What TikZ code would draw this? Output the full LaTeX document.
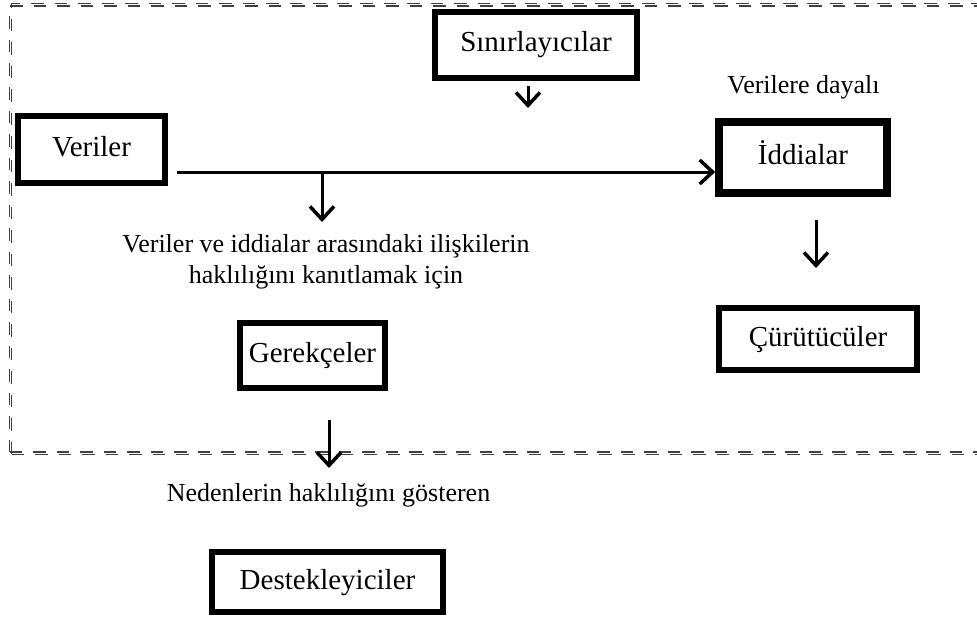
\documentclass[tikz,border=0pt]{standalone}
\usepackage{fontspec}
\setmainfont{Liberation Serif}
\usetikzlibrary{arrows.meta,shadows}
\begin{document}
\begin{tikzpicture}[x=1pt,y=-1pt,
  boxnode/.style={draw=black, fill=white, line width=6pt, inner sep=0pt,
    font=\fontsize{29}{33}\selectfont, text height=20pt, text depth=6pt,
    drop shadow={shadow xshift=0pt, shadow yshift=-2.5pt, fill=black, opacity=1}},
  lbl/.style={font=\fontsize{26}{31}\selectfont, inner sep=0pt, align=center},
  arr/.style={line width=3pt, -{Straight Barb[length=13pt,width=24pt,line width=3.5pt]}},
  dashframe/.style={draw=black!75, line width=1.2pt, dash pattern=on 12.5pt off 11pt}
]
\useasboundingbox (0,0) rectangle (977,618);
% dashed frame (double line)
\coordinate (f1) at (9.5,452);
\coordinate (f2) at (9.5,6);
\coordinate (f3) at (995,6);
\coordinate (f4) at (995,452);
\draw[dashframe] (f1) -- (f2) -- (f3);
\draw[dashframe] (f1) -- (f4);
\draw[dashframe] ([xshift=2.2pt,yshift=-2.2pt]f1) -- ([xshift=2.2pt,yshift=2.2pt]f2) -- ([yshift=2.2pt]f3);
\draw[dashframe] ([xshift=2.2pt,yshift=-2.2pt]f1) -- ([yshift=-2.2pt]f4);
% boxes
\node[boxnode, minimum width=202pt, minimum height=66pt] (sin) at (536,45) {Sınırlayıcılar};
\node[boxnode, minimum width=147pt, minimum height=67pt] (ver) at (91.5,149.5) {Veriler};
\node[boxnode, line width=7.5pt, minimum width=168pt, minimum height=71pt] (idd) at (803,157.5) {İddialar};
\node[boxnode, minimum width=198pt, minimum height=62pt] (cur) at (818,339) {Çürütücüler};
\node[boxnode, minimum width=145pt, minimum height=65pt] (ger) at (312.5,355.5) {Gerekçeler};
\node[boxnode, minimum width=231pt, minimum height=60pt] (des) at (327.5,582) {Destekleyiciler};
% labels
\node[lbl, anchor=base] (vd) at (803.5,93) {Verilere dayalı};
\node[lbl, anchor=base] (vi) at (326,283) {Veriler ve iddialar arasındaki ilişkilerin\\haklılığını kanıtlamak için};
\node[lbl, anchor=base] (nh) at (328.5,501) {Nedenlerin haklılığını gösteren};
% connectors
\coordinate (s1) at (528,86);
\coordinate (s2) at (528,108);
\draw[arr] (s1) -- (s2);
\coordinate (h0) at (177,172);
\draw[arr] (h0) -- (h0 -| idd.west);
\coordinate (d1) at (322,172);
\coordinate (d2) at (322,222);
\draw[arr] (d1) -- (d2);
\coordinate (i1) at (816,220);
\coordinate (i2) at (816,268);
\draw[arr] (i1) -- (i2);
\coordinate (g1) at (329,420);
\coordinate (g2) at (329,468);
\draw[arr] (g1) -- (g2);
\end{tikzpicture}
\end{document}
